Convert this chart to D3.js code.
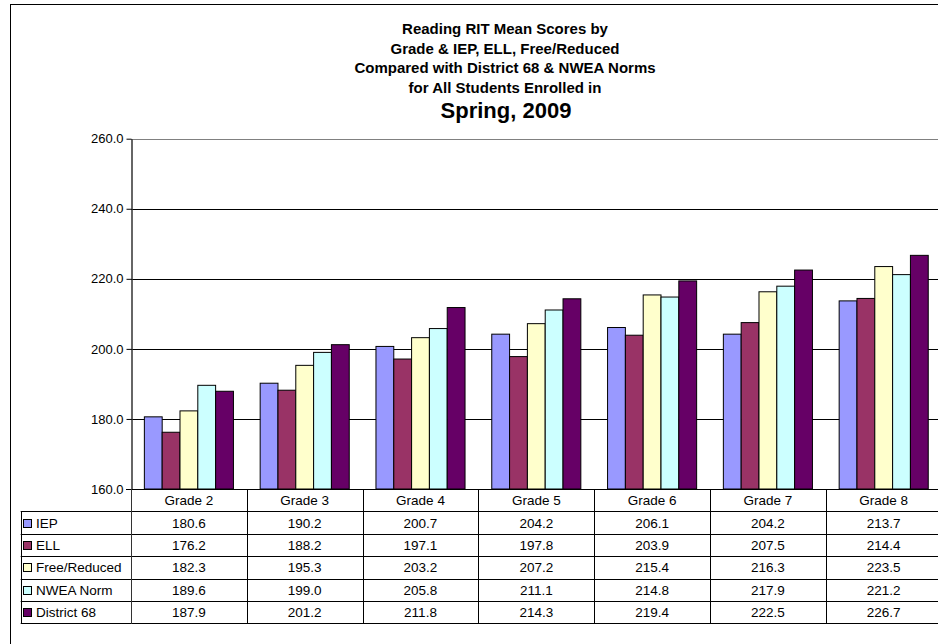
<!DOCTYPE html>
<html>
<head>
<meta charset="utf-8">
<script src="https://cdn.jsdelivr.net/npm/d3@7"></script>
<style>
  body { margin: 0; background: #fff; }
  svg { display: block; font-family: "Liberation Sans", Arial, sans-serif; }
</style>
</head>
<body>
<svg id="chart"></svg>
<script>
const grades = ['Grade 2', 'Grade 3', 'Grade 4', 'Grade 5', 'Grade 6', 'Grade 7', 'Grade 8'];
const seriesNames = ['IEP', 'ELL', 'Free/Reduced', 'NWEA Norm', 'District 68'];
const seriesColors = ['#9999ff', '#993366', '#ffffcc', '#ccffff', '#660066'];

const iep = [180.6, 190.2, 200.7, 204.2, 206.1, 204.2, 213.7];
const ell = [176.2, 188.2, 197.1, 197.8, 203.9, 207.5, 214.4];
const freeReduced = [182.3, 195.3, 203.2, 207.2, 215.4, 216.3, 223.5];
const nweaNorm = [189.6, 199.0, 205.8, 211.1, 214.8, 217.9, 221.2];
const district68 = [187.9, 201.2, 211.8, 214.3, 219.4, 222.5, 226.7];

const yTicks = [160, 180, 200, 220, 240, 260];

const titleLines = [
    'Reading RIT Mean Scores by',
    'Grade & IEP, ELL, Free/Reduced',
    'Compared with District 68 & NWEA Norms',
    'for All Students Enrolled in'
];
const titleMain = 'Spring, 2009';

const series = [iep, ell, freeReduced, nweaNorm, district68];

const width = 938;
const height = 644;

const plotLeft = 131;
const plotRight = 941.6;
const plotTop = 138.7;
const plotBottom = 489;
const tableLeft = 20.7;
const rowH = 22.4;

let svg = d3.select('#chart')
    .attr('width', width)
    .attr('height', height);

// chart border
svg.append('rect')
    .attr('x', 10.5).attr('y', 4.5)
    .attr('width', 1000).attr('height', 700)
    .attr('fill', 'none').attr('stroke', '#000');

// title
let titleG = svg.append('g').attr('text-anchor', 'middle').attr('font-weight', 'bold');
titleLines.forEach((t, i) => {
    titleG.append('text')
        .attr('x', 505).attr('y', 34 + i * 19.5)
        .attr('font-size', 15)
        .text(t);
});
titleG.append('text')
    .attr('x', 506).attr('y', 118)
    .attr('font-size', 22)
    .text(titleMain);

let xScale = d3.scaleBand()
    .domain(grades)
    .range([plotLeft, plotRight]);

let step = xScale.bandwidth();
let xInner = d3.scaleBand()
    .domain(seriesNames)
    .range([step * 0.75 / 6.5, step * 5.75 / 6.5]);

let yScale = d3.scaleLinear()
    .domain([160, 260])
    .range([plotBottom, plotTop]);

// gridlines
svg.append('g')
    .selectAll('line')
    .data(yTicks.slice(1, -1))
    .enter()
    .append('line')
    .attr('x1', plotLeft).attr('x2', plotRight)
    .attr('y1', d => Math.round(yScale(d)) + 0.5)
    .attr('y2', d => Math.round(yScale(d)) + 0.5)
    .attr('stroke', '#000');

// plot top border
svg.append('line')
    .attr('x1', plotLeft).attr('x2', plotRight)
    .attr('y1', Math.round(plotTop) + 0.5).attr('y2', Math.round(plotTop) + 0.5)
    .attr('stroke', '#808080');

// bars
grades.forEach((g, gi) => {
    svg.append('g')
        .attr('transform', 'translate(' + xScale(g) + ',0)')
        .selectAll('rect')
        .data(series.map((s, si) => ({ name: seriesNames[si], value: s[gi], color: seriesColors[si] })))
        .enter()
        .append('rect')
        .attr('x', d => xInner(d.name))
        .attr('width', xInner.bandwidth())
        .attr('y', d => yScale(d.value))
        .attr('height', d => plotBottom - yScale(d.value))
        .attr('fill', d => d.color)
        .attr('stroke', '#000')
        .attr('stroke-width', 1);
});

// y axis
let yAxis = d3.axisLeft(yScale)
    .tickValues(yTicks)
    .tickSizeInner(5)
    .tickSizeOuter(0)
    .tickFormat(d3.format('.1f'));

let yAxisG = svg.append('g')
    .attr('transform', 'translate(' + (plotLeft + 0.5) + ',0)')
    .call(yAxis);
yAxisG.select('.domain').attr('stroke', '#333').attr('stroke-width', 1.5);
yAxisG.selectAll('.tick line').attr('stroke', '#000');
yAxisG.selectAll('.tick text')
    .attr('font-size', 13)
    .attr('font-family', '"Liberation Sans", Arial, sans-serif')
    .attr('fill', '#000')
    .attr('x', -8);

// data table
let table = svg.append('g').attr('font-size', 13.5).attr('fill', '#000');
let rowTop = i => plotBottom + i * rowH;
let tableBottom = rowTop(6);

// horizontal lines
table.append('line')
    .attr('x1', plotLeft - 5).attr('x2', plotRight)
    .attr('y1', plotBottom + 0.5).attr('y2', plotBottom + 0.5)
    .attr('stroke', '#000');
for (let i = 1; i <= 6; i++) {
    table.append('line')
        .attr('x1', tableLeft).attr('x2', plotRight)
        .attr('y1', Math.round(rowTop(i)) + 0.5).attr('y2', Math.round(rowTop(i)) + 0.5)
        .attr('stroke', '#000');
}
// vertical lines
table.append('line')
    .attr('x1', Math.round(tableLeft) + 0.5).attr('x2', Math.round(tableLeft) + 0.5)
    .attr('y1', rowTop(1)).attr('y2', tableBottom + 0.5)
    .attr('stroke', '#000');
table.append('line')
    .attr('x1', plotLeft + 0.5).attr('x2', plotLeft + 0.5)
    .attr('y1', plotBottom).attr('y2', tableBottom + 0.5)
    .attr('stroke', '#333');
grades.slice(1).forEach(g => {
    table.append('line')
        .attr('x1', Math.round(xScale(g)) + 0.5).attr('x2', Math.round(xScale(g)) + 0.5)
        .attr('y1', plotBottom).attr('y2', tableBottom + 0.5)
        .attr('stroke', '#000');
});

// header texts
table.selectAll('text.head')
    .data(grades)
    .enter()
    .append('text')
    .attr('class', 'head')
    .attr('text-anchor', 'middle')
    .attr('x', g => xScale(g) + step / 2)
    .attr('y', rowTop(0) + rowH / 2 + 5)
    .text(g => g);

// rows
seriesNames.forEach((name, si) => {
    let y = rowTop(si + 1);
    table.append('rect')
        .attr('x', 23.5).attr('y', Math.round(y + rowH / 2 - 4) + 0.5)
        .attr('width', 8).attr('height', 8)
        .attr('fill', seriesColors[si])
        .attr('stroke', '#000');
    table.append('text')
        .attr('x', 36).attr('y', y + rowH / 2 + 5)
        .text(name);
    table.selectAll('text.v' + si)
        .data(series[si])
        .enter()
        .append('text')
        .attr('class', 'v' + si)
        .attr('text-anchor', 'middle')
        .attr('x', (d, gi) => xScale(grades[gi]) + step / 2)
        .attr('y', y + rowH / 2 + 5)
        .text(d => d.toFixed(1));
});
</script>
</body>
</html>
